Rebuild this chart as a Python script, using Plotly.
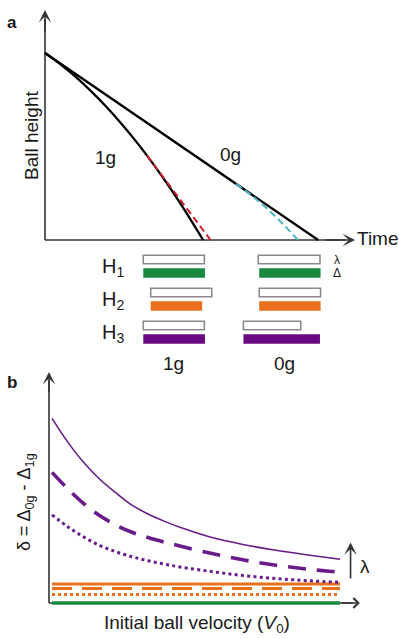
import plotly.graph_objects as go

W, H = 399, 639

# ---------------- Panel a: ball trajectories (time, height) ----------------
t_0g = [0.0, 8.81]
h_0g = [8.13, 0.0]
t_1g = [0, 0.5, 1, 1.5, 2, 2.5, 3, 3.5, 4, 4.5, 5.1]
h_1g = [8.13, 7.64, 7.08, 6.45, 5.76, 5.00, 4.18, 3.29, 2.33, 1.31, 0.0]
t_1g_tangent = [3.29, 5.34]
h_1g_tangent = [3.67, 0.0]
t_0g_fall = [6.16, 6.66, 7.16, 7.66, 8.16]
h_0g_fall = [2.44, 1.94, 1.37, 0.72, 0.0]

# ---------------- Bars: lambda (white) and Delta (coloured) ----------------
rows = ["H<sub>1</sub>", "H<sub>2</sub>", "H<sub>3</sub>"]
lam_1g_start = [3.17, 3.41, 3.17]
lam_1g_len = [1.97, 1.97, 1.97]
lam_0g_start = [6.88, 6.91, 6.40]
lam_0g_len = [1.99, 1.98, 1.85]
del_1g_start = [3.17, 3.41, 3.17]
del_1g_len = [1.99, 1.66, 1.99]
del_0g_start = [6.91, 6.91, 6.40]
del_0g_len = [1.98, 1.98, 2.47]
row_colors = ["#178a3f", "#e8711c", "#6a0a80"]

# ---------------- Panel b: delta vs initial velocity ----------------
v0 = [1, 1.5, 2, 2.5, 3, 3.5, 4, 4.5, 5, 6, 7, 8, 9, 10]
d_h3_solid = [8.30, 7.22, 6.30, 5.55, 4.95, 4.40, 4.00, 3.68, 3.40, 2.94, 2.62, 2.37, 2.16, 1.97]
d_h3_dash = [5.87, 5.12, 4.46, 3.92, 3.50, 3.18, 2.94, 2.74, 2.56, 2.22, 1.93, 1.70, 1.52, 1.38]
d_h3_dot = [3.96, 3.42, 2.96, 2.58, 2.30, 2.08, 1.90, 1.75, 1.62, 1.41, 1.23, 1.10, 1.00, 0.93]
v0_ends = [1, 10]
d_h2_solid = [0.85, 0.85]
d_h2_dash = [0.65, 0.65]
d_h2_dot = [0.38, 0.38]
d_h1 = [0.0, 0.0]

FONT = "Liberation Sans, Arial, Helvetica, sans-serif"
TXT = "#1a1a1a"
PURPLE = "#6a1b8a"
ORANGE = "#e8711c"
GREEN = "#178a3f"
AXC = "#333333"


def dx(p):
    return p / W


def dy(p):
    return 1 - p / H


fig = go.Figure()

# panel a traces
fig.add_trace(go.Scatter(x=t_0g, y=h_0g, mode="lines", line=dict(color="black", width=2.3),
                         xaxis="x", yaxis="y", hoverinfo="skip"))
fig.add_trace(go.Scatter(x=t_1g, y=h_1g, mode="lines", line=dict(color="black", width=2.3, shape="spline"),
                         xaxis="x", yaxis="y", hoverinfo="skip"))
fig.add_trace(go.Scatter(x=t_1g_tangent, y=h_1g_tangent, mode="lines",
                         line=dict(color="#c8202e", width=2, dash="7px,4px"),
                         xaxis="x", yaxis="y", hoverinfo="skip"))
fig.add_trace(go.Scatter(x=t_0g_fall, y=h_0g_fall, mode="lines",
                         line=dict(color="#4bb4c9", width=2, dash="7px,4px", shape="spline"),
                         xaxis="x", yaxis="y", hoverinfo="skip"))

# bars
lam_y = [0.95, 4.25, 7.55]
del_y = [2.3, 5.6, 8.9]
fig.add_trace(go.Bar(orientation="h", y=lam_y + lam_y, x=lam_1g_len + lam_0g_len,
                     base=lam_1g_start + lam_0g_start, width=0.85,
                     marker=dict(color="white", line=dict(color="#8a8a8a", width=1.6)),
                     xaxis="x3", yaxis="y3", hoverinfo="skip"))
fig.add_trace(go.Bar(orientation="h", y=del_y + del_y, x=del_1g_len + del_0g_len,
                     base=del_1g_start + del_0g_start, width=0.95,
                     marker=dict(color=row_colors + row_colors, line=dict(width=0)),
                     xaxis="x3", yaxis="y3", hoverinfo="skip"))

# panel b traces
fig.add_trace(go.Scatter(x=v0_ends, y=d_h2_solid, mode="lines", line=dict(color=ORANGE, width=3),
                         xaxis="x2", yaxis="y2", hoverinfo="skip"))
fig.add_trace(go.Scatter(x=v0_ends, y=d_h2_dash, mode="lines", line=dict(color=ORANGE, width=3, dash="20px,10px"),
                         xaxis="x2", yaxis="y2", hoverinfo="skip"))
fig.add_trace(go.Scatter(x=v0_ends, y=d_h2_dot, mode="lines", line=dict(color=ORANGE, width=3, dash="3px,3px"),
                         xaxis="x2", yaxis="y2", hoverinfo="skip"))
fig.add_trace(go.Scatter(x=v0_ends, y=d_h1, mode="lines", line=dict(color=GREEN, width=3.5),
                         xaxis="x2", yaxis="y2", hoverinfo="skip"))
fig.add_trace(go.Scatter(x=v0, y=d_h3_solid, mode="lines", line=dict(color=PURPLE, width=1.6, shape="spline"),
                         xaxis="x2", yaxis="y2", hoverinfo="skip"))
fig.add_trace(go.Scatter(x=v0, y=d_h3_dash, mode="lines",
                         line=dict(color=PURPLE, width=3.6, dash="18px,11px", shape="spline"),
                         xaxis="x2", yaxis="y2", hoverinfo="skip"))
fig.add_trace(go.Scatter(x=v0, y=d_h3_dot, mode="lines",
                         line=dict(color=PURPLE, width=3, dash="3px,3.3px", shape="spline"),
                         xaxis="x2", yaxis="y2", hoverinfo="skip"))

hidden = dict(visible=False, fixedrange=True)

fig.update_layout(
    width=W, height=H,
    margin=dict(l=0, r=0, t=0, b=0),
    paper_bgcolor="white", plot_bgcolor="white",
    showlegend=False,
    barmode="overlay",
    font=dict(family=FONT, color=TXT, size=19),
    xaxis=dict(domain=[dx(40), dx(399)], range=[-5 / 31, 354 / 31], **hidden),
    yaxis=dict(domain=[dy(245), dy(5.4)], range=[-0.217, 10.2], **hidden),
    xaxis3=dict(domain=[dx(40), dx(399)], range=[-5 / 31, 354 / 31], anchor="y3", **hidden),
    yaxis3=dict(domain=[dy(378), dy(246)], range=[12.8, -0.4], anchor="x3", **hidden),
    xaxis2=dict(domain=[dx(45), dx(399)], range=[1 - 7 / 32, 1 + 347 / 32], anchor="y2", **hidden),
    yaxis2=dict(domain=[dy(609.9), dy(371.6)], range=[-0.31, 10.4], anchor="x2", **hidden),
)

# axis lines (below traces)
shapes = [
    dict(type="line", xref="x", yref="y", x0=0, y0=0, x1=0, y1=9.6, line=dict(color=AXC, width=1.6), layer="below"),
    dict(type="line", xref="x", yref="y", x0=0, y0=0, x1=9.7, y1=0, line=dict(color=AXC, width=1.6), layer="below"),
    dict(type="line", xref="x2", yref="y2", x0=0.906, y0=0, x1=0.906, y1=10.0, line=dict(color=AXC, width=1.6), layer="below"),
    dict(type="line", xref="x2", yref="y2", x0=0.906, y0=0, x1=10.4, y1=0, line=dict(color=AXC, width=1.6), layer="below"),
]
fig.update_layout(shapes=shapes)

ann = []


def arrow(xr, yr, x, y, axv, ayv, w=1.6, head=3, size=1.3):
    ann.append(dict(xref=xr, yref=yr, axref=xr, ayref=yr, x=x, y=y, ax=axv, ay=ayv, text="",
                    showarrow=True, arrowhead=head, arrowsize=size, arrowwidth=w, arrowcolor=AXC, standoff=0))


arrow("x", "y", 0, 10.0, 0, 9.0)
arrow("x", "y", 10.0, 0, 9.0, 0)
arrow("x2", "y2", 0.906, 10.4 - 0.02, 0.906, 9.4)
arrow("x2", "y2", 10.62, 0, 10.0, 0, head=4, size=1.2)
arrow("x2", "y2", 10.33, 2.72, 10.33, 1.03)


def text(xr, yr, x, y, s, size=19, xanchor="center", yanchor="middle", angle=0, bold=False):
    ann.append(dict(xref=xr, yref=yr, x=x, y=y, text=("<b>%s</b>" % s) if bold else s, showarrow=False,
                    xanchor=xanchor, yanchor=yanchor, textangle=angle,
                    font=dict(size=size, family=FONT, color=TXT)))


text("paper", "paper", dx(12), dy(22), "a", size=17, bold=True)
text("paper", "paper", dx(12), dy(382), "b", size=17, bold=True)
text("paper", "paper", dx(32), dy(136), "Ball height", size=19, angle=-90)
text("x", "y", 10.0, 0.05, "Time", size=19, xanchor="left")
text("x", "y", 1.94, 3.6, "1g", size=19)
text("x", "y", 5.97, 3.7, "0g", size=19)

for name, ly, dly in zip(rows, lam_y, del_y):
    text("x3", "y3", 2.6, (ly + dly) / 2 + 0.1, name, size=20, xanchor="right")
text("x3", "y3", 9.42, lam_y[0], "λ", size=12)
text("x3", "y3", 9.42, del_y[0], "Δ", size=12)
text("x3", "y3", 4.13, 11.3, "1g", size=19)
text("x3", "y3", 7.74, 11.3, "0g", size=19)

text("paper", "paper", dx(25), dy(502), "δ = Δ<sub>0g</sub> - Δ<sub>1g</sub>", size=18, angle=-90)
text("paper", "paper", dx(197), dy(624), "Initial ball velocity (<i>V</i><sub>0</sub>)", size=19)
text("x2", "y2", 10.55, 1.66, "λ", size=19, xanchor="left")

fig.update_layout(annotations=ann)

fig.write_html("out.html", config={"displayModeBar": False},
               post_script="document.body.style.margin='0px';")
